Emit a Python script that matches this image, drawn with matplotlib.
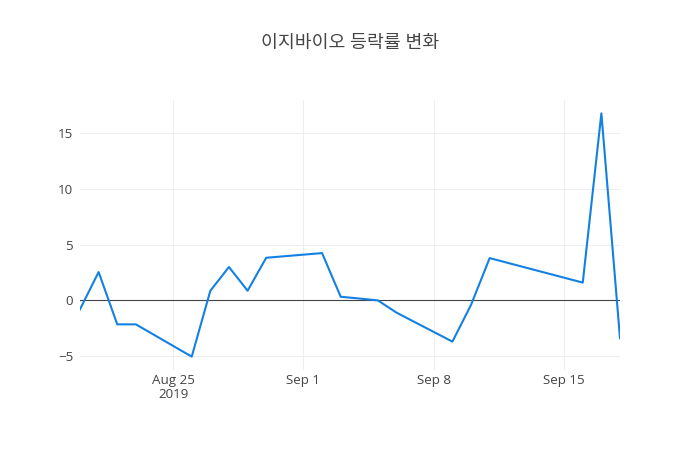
import datetime as dt
import matplotlib
matplotlib.use("Agg")
import matplotlib.pyplot as plt

plt.rcParams['font.family'] = ['Open Sans', 'Noto Sans CJK KR', 'DejaVu Sans']

# daily change rate (%)
dates = [
    "2019-08-20", "2019-08-21", "2019-08-22", "2019-08-23", "2019-08-26",
    "2019-08-27", "2019-08-28", "2019-08-29", "2019-08-30", "2019-09-02",
    "2019-09-03", "2019-09-04", "2019-09-05", "2019-09-06", "2019-09-09",
    "2019-09-10", "2019-09-11", "2019-09-16", "2019-09-17", "2019-09-18",
]
rates = [
    -0.8, 2.55, -2.15, -2.15, -5.05,
    0.87, 3.0, 0.87, 3.83, 4.25,
    0.33, 0.17, 0.0, -1.1, -3.7,
    -0.4, 3.8, 1.6, 16.8, -3.4,
]
tick_dates = ["2019-08-25", "2019-09-01", "2019-09-08", "2019-09-15"]
tick_labels = ["Aug 25\n2019", "Sep 1", "Sep 8", "Sep 15"]
y_ticks = [-5, 0, 5, 10, 15]
y_labels = ["\u22125", "0", "5", "10", "15"]

x = [dt.datetime.strptime(d, "%Y-%m-%d") for d in dates]
xt = [dt.datetime.strptime(d, "%Y-%m-%d") for d in tick_dates]

fig = plt.figure(figsize=(7, 4.5), dpi=100)
ax = fig.add_axes([80 / 700, 80 / 450, 540 / 700, 270 / 450])

ax.plot(x, rates, color="#1380e3", linewidth=1.5, zorder=3)
ax.axhline(0, color="#444444", linewidth=0.8, zorder=2)

ax.set_xlim(x[0], x[-1])
ax.set_ylim(-6.25, 18.0)

ax.set_xticks(xt)
ax.set_xticklabels(tick_labels, linespacing=1.05)
ax.set_yticks(y_ticks)
ax.set_yticklabels(y_labels)

ax.grid(True, color="#eeeeee", linewidth=0.75, zorder=0)
ax.tick_params(length=0, labelsize=9.6, colors="#444444")
ax.tick_params(axis="x", pad=3)
ax.tick_params(axis="y", pad=5)
for s in ax.spines.values():
    s.set_visible(False)

fig.text(0.5, 1 - 43 / 450, "이지바이오 등락률 변화", ha="center", va="center",
         fontsize=13.2, color="#444444")

fig.savefig("out.png", dpi=100)
